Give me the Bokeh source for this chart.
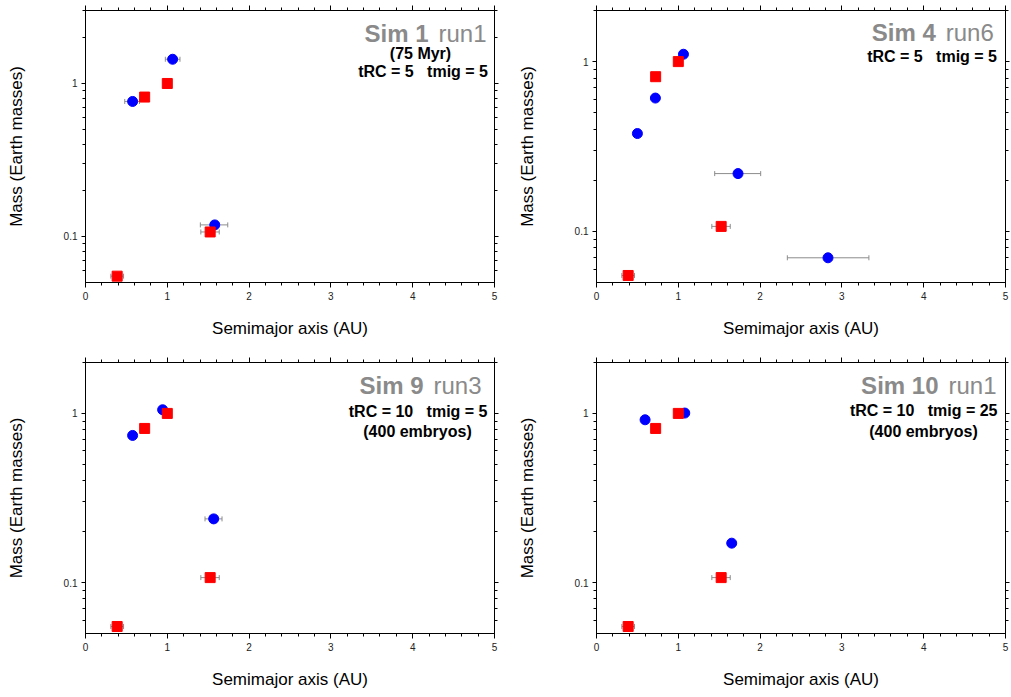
import math

from bokeh.embed import file_html
from bokeh.layouts import column, row
from bokeh.models import (ColumnDataSource, CustomJSTickFormatter, FixedTicker,
                          Label, LinearAxis, LogAxis, SingleIntervalTicker,
                          TeeHead, Whisker)
from bokeh.plotting import figure
from bokeh.resources import INLINE

# ---- axis ticks -------------------------------------------------------------
a_range = (0, 5)
mass_major_ticks = [0.1, 1]
mass_minor_ticks = [0.06, 0.07, 0.08, 0.09, 0.2, 0.3, 0.4, 0.5, 0.6, 0.7,
                    0.8, 0.9, 2, 3]

# ---- Solar System terrestrial planets (Mercury, Venus, Earth, Mars) -----------
ss_a = [0.387, 0.723, 1.000, 1.524]
ss_mass = [0.055, 0.815, 1.000, 0.107]
ss_a_lo = [0.31, 0.718, 0.983, 1.41]
ss_a_hi = [0.465, 0.728, 1.017, 1.635]

# ---- simulated planets ----------------------------------------------------------
sim1_a = [0.576, 1.065, 1.58]
sim1_mass = [0.763, 1.44, 0.119]
sim1_a_lo = [0.48, 0.976, 1.404]
sim1_a_hi = [0.66, 1.155, 1.739]

sim4_a = [0.50, 0.72, 1.063, 1.73, 2.83]
sim4_mass = [0.377, 0.61, 1.105, 0.219, 0.0699]
sim4_a_lo = [0.50, 0.72, 1.063, 1.445, 2.333]
sim4_a_hi = [0.50, 0.72, 1.063, 2.007, 3.33]

sim9_a = [0.576, 0.943, 1.567]
sim9_mass = [0.741, 1.051, 0.238]
sim9_a_lo = [0.576, 0.943, 1.461]
sim9_a_hi = [0.576, 0.943, 1.669]

sim10_a = [0.594, 1.079, 1.653]
sim10_mass = [0.917, 1.005, 0.171]
sim10_a_lo = [0.594, 1.079, 1.653]
sim10_a_hi = [0.594, 1.079, 1.653]

FONT = "Liberation Sans"
GRAY = "#8a8a8a"
BAR = "#8c8c8c"
GAP = "\u00a0\u00a0\u00a0"   # wide gap between the two timescales


def style_axis(ax, show_labels, tick_out):
    ax.axis_line_color = "black"
    ax.axis_line_width = 1
    ax.major_tick_line_color = "black"
    ax.minor_tick_line_color = "black"
    ax.major_tick_in = 0
    ax.minor_tick_in = 0
    ax.major_tick_out = tick_out
    ax.minor_tick_out = 3
    if show_labels:
        ax.major_label_text_font = FONT
        ax.major_label_text_font_size = "10px"
        ax.major_label_text_color = "#222222"
        ax.major_label_standoff = 4
        ax.axis_label_text_font = FONT
        ax.axis_label_text_font_size = "17px"
        ax.axis_label_text_font_style = "normal"
        ax.axis_label_text_color = "black"
    else:
        # mirrored axis: tick marks only, labels not painted
        ax.major_label_text_font_size = "1px"
        ax.major_label_text_color = None
        ax.major_label_standoff = 0


def panel(width, height, borders, ymax, sim, title, subtitles):
    left, right, top, bottom = borders
    p = figure(width=width, height=height, x_range=a_range,
               y_range=(0.05, ymax), y_axis_type="log",
               output_backend="svg", toolbar_location=None,
               min_border_left=left, min_border_right=right,
               min_border_top=top, min_border_bottom=bottom)
    p.xgrid.visible = False
    p.ygrid.visible = False
    p.outline_line_color = "black"
    p.outline_line_width = 1
    p.background_fill_color = "white"
    p.border_fill_color = "white"

    x_ticker = SingleIntervalTicker(interval=1, num_minor_ticks=5)
    y_ticker = FixedTicker(ticks=mass_major_ticks, minor_ticks=mass_minor_ticks)
    y_fmt = CustomJSTickFormatter(code="return String(tick);")

    xa = p.xaxis[0]
    xa.ticker = x_ticker
    xa.axis_label = "Semimajor axis (AU)"
    style_axis(xa, True, 5)
    xa.axis_label_standoff = 16

    ya = p.yaxis[0]
    ya.ticker = y_ticker
    ya.formatter = y_fmt
    ya.axis_label = "Mass (Earth masses)"
    style_axis(ya, True, 4)
    ya.axis_label_standoff = 35

    top_ax = LinearAxis(ticker=x_ticker)
    style_axis(top_ax, False, 5)
    p.add_layout(top_ax, "above")
    right_ax = LogAxis(ticker=y_ticker)
    style_axis(right_ax, False, 4)
    p.add_layout(right_ax, "right")

    sim_a, sim_mass, sim_lo, sim_hi = sim
    sim_src = ColumnDataSource(dict(a=sim_a, m=sim_mass, lo=sim_lo, hi=sim_hi))
    ss_src = ColumnDataSource(dict(a=ss_a, m=ss_mass, lo=ss_a_lo, hi=ss_a_hi))

    # eccentricity ranges drawn underneath the markers
    for src in (sim_src, ss_src):
        p.add_layout(Whisker(source=src, base="m", lower="lo", upper="hi",
                             dimension="width", line_color=BAR, line_width=1,
                             level="underlay",
                             upper_head=TeeHead(size=5, line_color=BAR, line_width=1),
                             lower_head=TeeHead(size=5, line_color=BAR, line_width=1)))

    p.scatter("a", "m", source=sim_src, marker="circle", size=10,
              fill_color="#0000ff", line_color="#0000ff")
    p.scatter("a", "m", source=ss_src, marker="square", size=10,
              fill_color="#ff0000", line_color="#ff0000")

    # text placed by pixel distance from the frame's top-right corner
    frame_w = width - left - right
    frame_h = height - top - bottom
    ly0, ly1 = math.log10(0.05), math.log10(ymax)

    def at(from_right, baseline_from_top, size):
        from_top = baseline_from_top - 0.33 * size
        x = a_range[1] - from_right / frame_w * (a_range[1] - a_range[0])
        y = 10 ** (ly1 - from_top / frame_h * (ly1 - ly0))
        return x, y

    sim_name, run_name, t_right, t_top = title
    x, y = at(t_right, t_top, 24)
    p.add_layout(Label(x=x, y=y, text=run_name, text_align="right",
                       text_baseline="alphabetic", text_font=FONT,
                       text_font_size="24px", text_color=GRAY))
    p.add_layout(Label(x=x, y=y, x_offset=-58, text=sim_name,
                       text_align="right", text_baseline="alphabetic",
                       text_font=FONT, text_font_size="24px",
                       text_font_style="bold", text_color=GRAY))
    for text, align, fr, ft in subtitles:
        x, y = at(fr, ft, 16)
        p.add_layout(Label(x=x, y=y, text=text, text_align=align,
                           text_baseline="alphabetic", text_font=FONT,
                           text_font_size="16px", text_font_style="bold",
                           text_color="black"))
    return p


p1 = panel(505, 340, (85, 11, 10, 58), 3,
           (sim1_a, sim1_mass, sim1_a_lo, sim1_a_hi),
           ("Sim 1", "run1", 8, 31),
           [("(75 Myr)", "center", 74, 48.5),
            ("tRC = 5" + GAP + "tmig = 5", "right", 6.5, 66.7)])
p2 = panel(506, 340, (91, 6, 10, 58), 2,
           (sim4_a, sim4_mass, sim4_a_lo, sim4_a_hi),
           ("Sim 4", "run6", 11.7, 30),
           [("tRC = 5" + GAP + "tmig = 5", "right", 8.5, 51.7)])
p3 = panel(505, 357, (85, 11, 22, 64), 2,
           (sim9_a, sim9_mass, sim9_a_lo, sim9_a_hi),
           ("Sim 9", "run3", 13, 31.3),
           [("tRC = 10" + GAP + "tmig = 5", "right", 7, 54),
            ("(400 embryos)", "center", 77, 74)])
p4 = panel(506, 357, (91, 6, 22, 64), 2,
           (sim10_a, sim10_mass, sim10_a_lo, sim10_a_hi),
           ("Sim 10", "run1", 9, 31.3),
           [("tRC = 10" + GAP + "tmig = 25", "right", 8, 53),
            ("(400 embryos)", "center", 82, 74)])

layout = column(row(p1, p2), row(p3, p4))

with open("out.html", "w") as f:
    f.write(file_html(layout, INLINE))
